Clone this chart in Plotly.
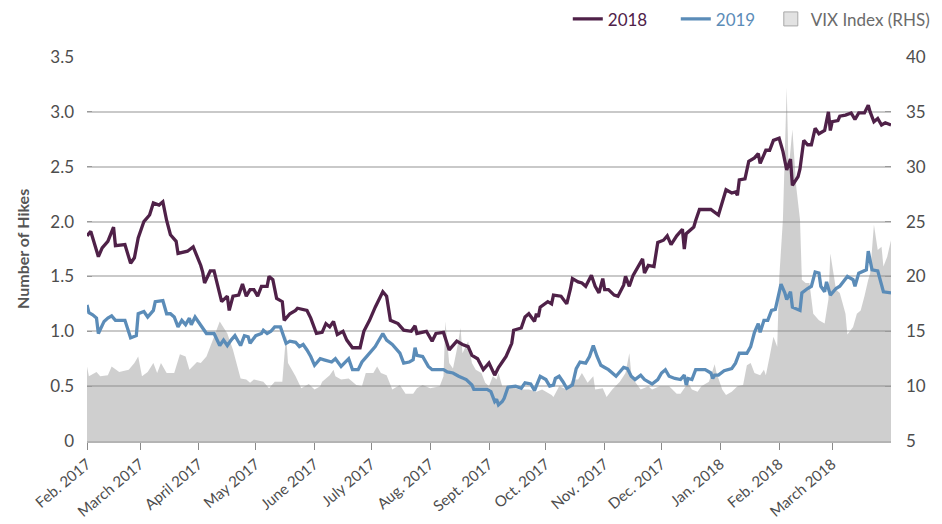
import plotly.graph_objects as go

# ---- data ----
dates_2018 = ["2017-02-01","2017-02-03","2017-02-07","2017-02-09","2017-02-12","2017-02-15","2017-02-16","2017-02-21","2017-02-24","2017-02-26","2017-02-28",
"2017-03-03","2017-03-06","2017-03-08","2017-03-11","2017-03-13","2017-03-15","2017-03-17","2017-03-20","2017-03-21","2017-03-26","2017-03-29",
"2017-04-02","2017-04-03","2017-04-04","2017-04-07","2017-04-09","2017-04-11","2017-04-13","2017-04-16","2017-04-17","2017-04-19","2017-04-22","2017-04-24","2017-04-26","2017-04-28","2017-04-30",
"2017-05-02","2017-05-04","2017-05-07","2017-05-08","2017-05-10","2017-05-12","2017-05-15","2017-05-16","2017-05-19","2017-05-22","2017-05-23","2017-05-28","2017-05-30",
"2017-06-02","2017-06-05","2017-06-07","2017-06-09","2017-06-11","2017-06-13","2017-06-16","2017-06-18","2017-06-21","2017-06-25","2017-06-27","2017-06-30",
"2017-07-03","2017-07-07","2017-07-09","2017-07-11","2017-07-15","2017-07-18","2017-07-22","2017-07-24","2017-07-25","2017-07-30",
"2017-08-02","2017-08-04","2017-08-08","2017-08-11","2017-08-15","2017-08-18","2017-08-21","2017-08-23","2017-08-26","2017-08-29",
"2017-09-01","2017-09-04","2017-09-06","2017-09-08","2017-09-10","2017-09-13","2017-09-14","2017-09-18","2017-09-20","2017-09-22","2017-09-25","2017-09-26","2017-09-27","2017-09-28",
"2017-10-02","2017-10-04","2017-10-05","2017-10-09","2017-10-11","2017-10-12","2017-10-14","2017-10-15","2017-10-18","2017-10-20","2017-10-22","2017-10-25","2017-10-27","2017-10-29","2017-10-31",
"2017-11-01","2017-11-03","2017-11-06","2017-11-08","2017-11-11","2017-11-12","2017-11-14","2017-11-16","2017-11-18","2017-11-21","2017-11-22","2017-11-24","2017-11-27","2017-11-29",
"2017-12-02","2017-12-04","2017-12-06","2017-12-09","2017-12-12","2017-12-13","2017-12-14","2017-12-16","2017-12-18","2017-12-19","2017-12-21","2017-12-24","2017-12-27","2017-12-31",
"2018-01-02","2018-01-04","2018-01-07","2018-01-09","2018-01-10","2018-01-11","2018-01-14","2018-01-16","2018-01-19","2018-01-21","2018-01-22","2018-01-25","2018-01-27","2018-01-29",
"2018-02-01","2018-02-03","2018-02-05","2018-02-07","2018-02-08","2018-02-11","2018-02-12","2018-02-14","2018-02-16","2018-02-18","2018-02-20","2018-02-22","2018-02-25","2018-02-26","2018-02-27","2018-02-28",
"2018-03-01","2018-03-04","2018-03-05","2018-03-08","2018-03-11","2018-03-13","2018-03-15","2018-03-18","2018-03-20","2018-03-21","2018-03-23","2018-03-25","2018-03-27","2018-03-29","2018-04-01"]
hikes_2018 = [1.87,1.91,1.68,1.76,1.82,1.95,1.78,1.79,1.62,1.67,1.85,
2.00,2.06,2.17,2.15,2.18,2.01,1.88,1.82,1.71,1.73,1.77,
1.60,1.54,1.44,1.55,1.55,1.41,1.27,1.32,1.19,1.32,1.33,1.43,1.32,1.38,1.38,
1.32,1.41,1.41,1.50,1.47,1.30,1.27,1.10,1.16,1.19,1.21,1.19,1.12,
0.98,0.99,1.07,1.04,1.09,0.97,1.00,0.92,0.85,0.85,1.00,1.10,
1.22,1.36,1.32,1.10,1.07,1.01,1.00,1.05,0.98,1.00,
0.91,0.98,0.99,0.83,0.91,0.88,0.86,0.78,0.75,0.65,
0.71,0.60,0.67,0.72,0.77,0.89,1.01,1.03,1.13,1.16,1.09,1.16,1.13,1.22,
1.27,1.25,1.33,1.32,1.27,1.25,1.39,1.48,1.45,1.44,1.41,1.51,1.41,1.35,1.48,
1.38,1.38,1.33,1.32,1.42,1.50,1.41,1.51,1.57,1.66,1.53,1.60,1.59,1.81,
1.83,1.87,1.79,1.87,1.93,1.75,1.89,1.92,1.95,2.01,2.11,2.11,2.11,2.06,
2.17,2.29,2.26,2.27,2.24,2.38,2.39,2.55,2.58,2.62,2.53,2.65,2.65,2.74,
2.76,2.64,2.47,2.57,2.33,2.41,2.48,2.74,2.70,2.70,2.85,2.80,2.83,2.93,3.00,2.83,
2.91,2.92,2.96,2.97,2.99,2.93,2.99,2.99,3.06,3.00,2.91,2.94,2.88,2.90,2.88]

dates_2019 = ["2017-02-01","2017-02-02","2017-02-04","2017-02-06","2017-02-07","2017-02-10","2017-02-12","2017-02-14","2017-02-16","2017-02-21","2017-02-24","2017-02-27","2017-02-28",
"2017-03-03","2017-03-05","2017-03-08","2017-03-09","2017-03-13","2017-03-15","2017-03-17","2017-03-19","2017-03-21","2017-03-23","2017-03-25","2017-03-27","2017-03-28","2017-03-30",
"2017-04-02","2017-04-04","2017-04-05","2017-04-09","2017-04-12","2017-04-14","2017-04-16","2017-04-18","2017-04-20","2017-04-23","2017-04-25","2017-04-27","2017-04-28",
"2017-05-01","2017-05-04","2017-05-05","2017-05-07","2017-05-09","2017-05-11","2017-05-14","2017-05-17","2017-05-19","2017-05-22","2017-05-24","2017-05-26","2017-05-28","2017-05-30",
"2017-06-01","2017-06-04","2017-06-06","2017-06-10","2017-06-12","2017-06-15","2017-06-19","2017-06-21","2017-06-24","2017-06-26","2017-06-29",
"2017-07-03","2017-07-07","2017-07-09","2017-07-12","2017-07-16","2017-07-18","2017-07-21","2017-07-23","2017-07-24","2017-07-25","2017-07-28","2017-07-31",
"2017-08-02","2017-08-08","2017-08-10","2017-08-13","2017-08-16","2017-08-20","2017-08-23","2017-08-24","2017-08-29","2017-08-31",
"2017-09-02","2017-09-04","2017-09-05","2017-09-06","2017-09-08","2017-09-09","2017-09-11","2017-09-15","2017-09-18","2017-09-20","2017-09-23","2017-09-25","2017-09-28",
"2017-10-01","2017-10-03","2017-10-05","2017-10-06","2017-10-08","2017-10-10","2017-10-12","2017-10-15","2017-10-17","2017-10-19","2017-10-22","2017-10-24","2017-10-26","2017-10-28","2017-10-30",
"2017-11-01","2017-11-03","2017-11-07","2017-11-11","2017-11-13","2017-11-15","2017-11-17","2017-11-20","2017-11-22","2017-11-26","2017-11-29",
"2017-12-01","2017-12-03","2017-12-05","2017-12-08","2017-12-11","2017-12-13","2017-12-14","2017-12-15","2017-12-17","2017-12-19","2017-12-24","2017-12-27","2017-12-28","2017-12-29","2017-12-31",
"2018-01-03","2018-01-07","2018-01-09","2018-01-11","2018-01-15","2018-01-17","2018-01-19","2018-01-21","2018-01-22","2018-01-24","2018-01-26","2018-01-28","2018-01-30",
"2018-02-02","2018-02-04","2018-02-05","2018-02-07","2018-02-08","2018-02-12","2018-02-13","2018-02-16","2018-02-18","2018-02-20","2018-02-22","2018-02-23","2018-02-25","2018-02-26","2018-02-28",
"2018-03-03","2018-03-05","2018-03-09","2018-03-12","2018-03-13","2018-03-15","2018-03-19","2018-03-20","2018-03-22","2018-03-25","2018-03-28","2018-04-01"]
hikes_2019 = [1.24,1.17,1.15,1.12,0.98,1.09,1.12,1.14,1.10,1.10,0.94,0.96,1.16,
1.18,1.13,1.19,1.27,1.28,1.16,1.16,1.13,1.04,1.10,1.06,1.12,1.06,1.13,
1.06,1.01,0.98,0.98,0.87,0.92,0.87,0.92,0.96,0.87,0.96,0.95,0.89,
0.96,0.98,1.01,0.98,1.00,1.04,1.04,0.89,0.91,0.90,0.86,0.88,0.83,0.77,
0.69,0.75,0.74,0.72,0.75,0.68,0.75,0.65,0.65,0.72,0.78,
0.86,0.98,0.92,0.88,0.80,0.71,0.72,0.74,0.85,0.78,0.77,0.68,
0.65,0.65,0.63,0.62,0.59,0.56,0.51,0.47,0.47,0.47,
0.45,0.36,0.38,0.33,0.36,0.39,0.49,0.50,0.48,0.53,0.52,0.46,0.59,
0.56,0.50,0.51,0.57,0.59,0.54,0.48,0.51,0.66,0.72,0.71,0.77,0.87,0.77,0.69,
0.67,0.65,0.59,0.67,0.66,0.59,0.56,0.60,0.56,0.52,0.56,
0.62,0.65,0.59,0.57,0.56,0.60,0.51,0.57,0.56,0.65,0.65,0.62,0.57,0.60,0.60,
0.64,0.66,0.71,0.80,0.80,0.86,0.99,1.07,0.99,1.10,1.10,1.19,1.20,
1.43,1.35,1.29,1.36,1.22,1.19,1.35,1.39,1.41,1.54,1.53,1.41,1.36,1.45,1.33,
1.39,1.41,1.50,1.47,1.41,1.53,1.56,1.73,1.56,1.55,1.36,1.35]

dates_vix = ["2017-02-01","2017-02-02","2017-02-06","2017-02-08","2017-02-12","2017-02-14","2017-02-18","2017-02-23","2017-02-26","2017-02-28",
"2017-03-02","2017-03-05","2017-03-08","2017-03-10","2017-03-12","2017-03-15","2017-03-19","2017-03-22","2017-03-25","2017-03-27","2017-03-31",
"2017-04-02","2017-04-05","2017-04-09","2017-04-12","2017-04-16","2017-04-19","2017-04-23","2017-04-26","2017-04-28","2017-04-30",
"2017-05-05","2017-05-08","2017-05-11","2017-05-15","2017-05-17","2017-05-18","2017-05-22","2017-05-25","2017-05-29",
"2017-06-01","2017-06-04","2017-06-05","2017-06-09","2017-06-11","2017-06-12","2017-06-15","2017-06-19","2017-06-23","2017-06-26","2017-06-28",
"2017-07-02","2017-07-04","2017-07-06","2017-07-09","2017-07-12","2017-07-16","2017-07-19","2017-07-23","2017-07-25","2017-07-28",
"2017-08-01","2017-08-06","2017-08-08","2017-08-09","2017-08-11","2017-08-13","2017-08-15","2017-08-17","2017-08-18","2017-08-21","2017-08-23","2017-08-25","2017-08-28","2017-08-30",
"2017-09-01","2017-09-03","2017-09-05","2017-09-06","2017-09-08","2017-09-12","2017-09-17","2017-09-22","2017-09-26","2017-09-29",
"2017-10-04","2017-10-05","2017-10-08","2017-10-12","2017-10-15","2017-10-18","2017-10-20","2017-10-23","2017-10-26","2017-10-27","2017-10-31",
"2017-11-02","2017-11-05","2017-11-09","2017-11-12","2017-11-14","2017-11-15","2017-11-17","2017-11-20","2017-11-24","2017-11-26","2017-11-30",
"2017-12-02","2017-12-05","2017-12-09","2017-12-11","2017-12-15","2017-12-17","2017-12-20","2017-12-22","2017-12-26","2017-12-29","2017-12-30",
"2018-01-02","2018-01-04","2018-01-07","2018-01-10","2018-01-13","2018-01-15","2018-01-17","2018-01-19","2018-01-22","2018-01-24","2018-01-25","2018-01-27","2018-01-29","2018-01-31",
"2018-02-01","2018-02-03","2018-02-05","2018-02-06","2018-02-08","2018-02-10","2018-02-12","2018-02-13","2018-02-15","2018-02-17","2018-02-19","2018-02-22","2018-02-25","2018-02-27","2018-02-28",
"2018-03-03","2018-03-05","2018-03-08","2018-03-09","2018-03-12","2018-03-14","2018-03-16","2018-03-18","2018-03-20","2018-03-21","2018-03-23","2018-03-25","2018-03-27","2018-03-28","2018-03-30","2018-04-01"]
vix = [11.8,10.9,11.3,10.9,11.0,11.8,11.3,11.5,12.1,12.7,
10.9,11.3,12.1,11.2,12.1,11.2,11.2,12.9,12.7,11.5,12.2,
12.1,12.7,14.5,15.9,14.8,13.3,10.7,10.6,10.3,10.6,
10.4,9.8,10.4,10.4,14.7,12.1,10.9,9.8,10.2,
9.7,10.0,10.4,11.0,11.5,10.9,10.6,10.7,10.1,10.0,11.2,
11.2,11.8,11.2,11.0,9.7,10.1,9.3,9.3,9.8,10.1,
9.8,10.0,10.9,15.9,12.1,11.6,13.3,15.3,13.0,14.1,12.1,11.5,11.2,10.3,
10.0,10.9,10.6,11.2,10.0,10.0,9.7,9.7,9.5,9.7,
9.2,9.0,10.0,9.7,10.6,10.6,11.2,10.3,10.9,9.7,9.8,
9.0,9.7,10.4,11.2,13.0,11.2,10.4,9.7,10.0,9.7,10.0,
10.0,10.0,9.3,9.3,10.3,9.7,9.5,10.0,10.4,12.0,11.2,
9.7,9.2,9.5,10.0,10.1,11.9,12.1,11.2,11.0,11.5,11.0,12.7,14.5,13.6,
19.7,25.2,37.2,29.7,33.4,28.2,25.2,19.7,19.4,19.4,16.6,16.0,15.7,17.9,22.1,
18.8,18.5,16.6,14.7,15.4,16.6,16.9,18.2,19.7,20.3,24.7,22.4,22.7,20.9,21.8,23.3]

tick_dates = ["2017-02-01","2017-03-01","2017-04-01","2017-05-01","2017-06-01","2017-07-01","2017-08-01",
              "2017-09-01","2017-10-01","2017-11-01","2017-12-01","2018-01-01","2018-02-01","2018-03-01"]
tick_labels = ["Feb. 2017","March 2017","April 2017","May 2017","June 2017","July 2017","Aug. 2017",
               "Sept. 2017","Oct. 2017","Nov. 2017","Dec. 2017","Jan. 2018","Feb. 2018","March 2018"]
left_vals = [0, 0.5, 1.0, 1.5, 2.0, 2.5, 3.0, 3.5]
left_text = ["0", "0.5", "1.0", "1.5", "2.0", "2.5", "3.0", "3.5"]
grid_vals = [0.5, 1.0, 1.5, 2.0, 2.5, 3.0]
right_vals = [5, 10, 15, 20, 25, 30, 35, 40]

PURPLE = "#4f2148"
BLUE = "#5b8cb8"
FONT = "Lato, 'Noto Sans', sans-serif"
TXT = "#4d4d4d"

fig = go.Figure()
fig.add_trace(go.Scatter(
    x=dates_vix, y=vix, mode="none", fill="tozeroy",
    fillcolor="rgba(140,140,140,0.42)", yaxis="y", showlegend=False,
    name="VIX Index (RHS)"))
fig.add_trace(go.Scatter(
    x=dates_2019, y=hikes_2019, mode="lines", line=dict(color=BLUE, width=3.3),
    yaxis="y2", name='<span style="color:%s">2019</span>' % BLUE, legendrank=2))
fig.add_trace(go.Scatter(
    x=dates_2018, y=hikes_2018, mode="lines", line=dict(color=PURPLE, width=3.3),
    yaxis="y3", name='<span style="color:%s">2018</span>' % PURPLE, legendrank=1))
# legend key for the VIX area (square swatch, as in the reference)
fig.add_trace(go.Scatter(
    x=[None], y=[None], mode="markers", yaxis="y", legend="legend2",
    marker=dict(symbol="square", size=14, color="#e2e2e2", line=dict(color="#a8a8a8", width=1)),
    name='<span style="color:#6b6b6b">VIX Index (RHS)</span>'))

fig.update_layout(
    width=934, height=516,
    margin=dict(l=79, r=51, t=49, b=83, autoexpand=False),
    paper_bgcolor="white", plot_bgcolor="white",
    font=dict(family=FONT, size=16, color=TXT),
    showlegend=True,
    legend=dict(orientation="h", x=0.598, xanchor="left", y=1.098, yanchor="middle",
                font=dict(size=17, family=FONT), itemwidth=30, entrywidth=63,
                bgcolor="rgba(0,0,0,0)"),
    legend2=dict(orientation="h", x=0.8505, xanchor="left", y=1.098, yanchor="middle",
                 font=dict(size=17, family=FONT), itemwidth=30,
                 bgcolor="rgba(0,0,0,0)"),
    xaxis=dict(type="date", range=["2017-02-01", "2018-04-01"],
               tickvals=tick_dates, ticktext=tick_labels, tickangle=-40,
               showgrid=False, showline=True, linecolor="#b4b4b4", linewidth=1.5,
               ticks="outside", ticklen=7, tickcolor="#8a8a8a",
               tickfont=dict(size=15, color=TXT), zeroline=False, automargin=False),
    yaxis=dict(side="right", range=[5, 40], tickvals=right_vals, showgrid=False,
               zeroline=False, ticks="inside", ticklen=6, tickcolor="#9a9a9a",
               tickfont=dict(size=17, color=TXT), ticklabelstandoff=14, automargin=False),
    yaxis2=dict(overlaying="y", side="left", range=[0, 3.5], tickvals=left_vals,
                ticktext=left_text, showgrid=False, zeroline=False,
                ticks="inside", ticklen=5, tickcolor="#9a9a9a",
                tickfont=dict(size=17, color=TXT), ticklabelstandoff=12, automargin=False),
    yaxis3=dict(overlaying="y", side="left", range=[0, 3.5], tickvals=grid_vals,
                showgrid=True, gridcolor="#c9c9c9", gridwidth=1.6, showticklabels=False,
                zeroline=False, ticks="", automargin=False),
    annotations=[dict(text="<b>Number of Hikes</b>", textangle=-90, xref="paper", yref="paper",
                      x=-0.081, y=0.5, xanchor="center", yanchor="middle", showarrow=False,
                      font=dict(size=16, color="#555555", family=FONT))],
)

fig.write_html("out.html")
